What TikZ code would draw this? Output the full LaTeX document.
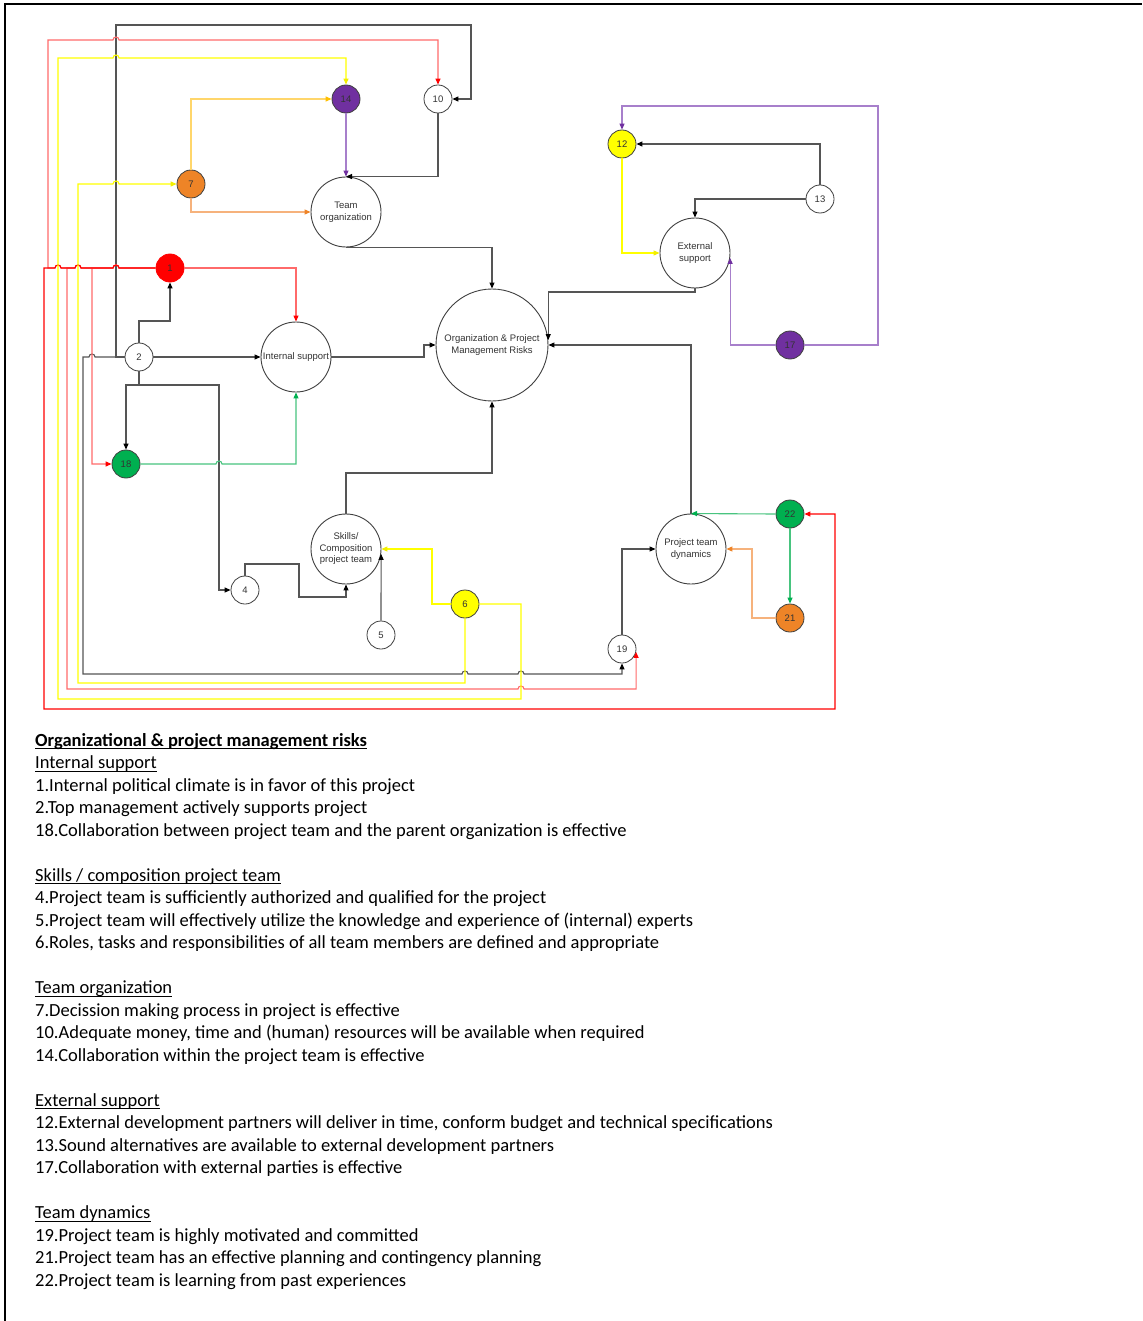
\documentclass[tikz,border=0pt]{standalone}
\usepackage{fontspec}
\setmainfont{Carlito}
\newfontfamily\arialf{Liberation Sans}
\usetikzlibrary{arrows.meta,calc}

\definecolor{lnGray}{HTML}{555555}
\definecolor{cRed}{HTML}{FF0000}
\definecolor{cRedL}{HTML}{FF6A6A}
\definecolor{cYel}{HTML}{FFFF00}
\definecolor{cYelTip}{HTML}{F2EE00}
\definecolor{cGold}{HTML}{FFC000}
\definecolor{cGoldL}{HTML}{FFD66B}
\definecolor{cOra}{HTML}{EE8427}
\definecolor{cOraL}{HTML}{F6B27C}
\definecolor{cPur}{HTML}{7030A0}
\definecolor{cPurL}{HTML}{A77FCB}
\definecolor{cGrn}{HTML}{00B050}
\definecolor{cGrnL}{HTML}{48C47F}
\definecolor{nodeEdge}{HTML}{404040}

\tikzset{
  headcol/.style={-{Triangle[length=6pt,width=5pt,color=#1]}},
  wire/.style={line width=1.1pt},
  blk/.style={wire, draw=lnGray, headcol=black},
  redL/.style={wire, draw=cRedL, headcol=cRed},
  redS/.style={wire, draw=cRed, headcol=cRed},
  yel/.style={wire, draw=cYel, headcol=cYelTip},
  gold/.style={wire, draw=cGoldL, headcol=cGold},
  ora/.style={wire, draw=cOraL, headcol=cOra},
  pur/.style={wire, draw=cPurL, headcol=cPur},
  grn/.style={wire, draw=cGrnL, headcol=cGrn},
  num/.style={circle, draw=nodeEdge, line width=0.8pt, minimum size=28pt,
    inner sep=0pt, font=\arialf\fontsize{9.5}{11}\selectfont, text=black!80},
  hub/.style={circle, draw=nodeEdge, line width=0.9pt, minimum size=70pt,
    inner sep=0pt, align=center, font=\arialf\fontsize{9.5}{11.5}\selectfont,
    text=black!80},
  core/.style={hub, minimum size=112pt},
  legend/.style={anchor=base west, inner sep=0pt,
    font=\fontsize{18.5}{22}\selectfont},
  heading/.style={legend},
}

\begin{document}
\begin{tikzpicture}[x=1pt, y=-1pt]
\useasboundingbox (0,0) rectangle (1142,1321);
\fill[white] (0,0) rectangle (1142,1321);

% page frame (top and left edges)
\draw[line width=2pt] (5,1321) -- (5,4) -- (1142,4);

% ---------- factor nodes ----------
\node[num, fill=cPur]   (n14) at (346,99)  {14};
\node[num]              (n10) at (438,99)  {10};
\node[num, fill=cOra]   (n7)  at (191,184) {7};
\node[num, fill=cRed, draw=cRed] (n1) at (170,268) {1};
\node[num]              (n2)  at (139,357) {2};
\node[num, fill=cGrn]   (n18) at (126,464) {18};
\node[num, fill=cYel]   (n12) at (622,144) {12};
\node[num]              (n13) at (820,199) {13};
\node[num, fill=cPur]   (n17) at (790,345) {17};
\node[num, fill=cGrn]   (n22) at (790,514) {22};
\node[num, fill=cOra]   (n21) at (790,618) {21};
\node[num]              (n19) at (622,649) {19};
\node[num]              (n4)  at (245,590) {4};
\node[num]              (n5)  at (381,635) {5};
\node[num, fill=cYel]   (n6)  at (465,604) {6};

% ---------- category nodes ----------
\node[hub]  (TO)  at (346,212) {Team\\organization};
\node[hub]  (IS)  at (296,357) {Internal support};
\node[core] (OR)  at (492,345) {Organization \& Project\\Management Risks};
\node[hub]  (ES)  at (695,253) {External\\support};
\node[hub]  (SK)  at (346,549) {Skills/\\Composition\\project team};
\node[hub]  (PTD) at (691,549) {Project team\\dynamics};

% ---------- gray connectors ----------
\draw[blk] (n2.west) -- (116,357) -- (116,25) -- (471,25) |- (n10.east);
\draw[blk] (n10.south) |- (TO.north);
\draw[blk] (TO.south) -| (OR.north);
\draw[blk] (n2.north) -- (139,321) -| (n1.south);
\draw[blk] (n2.east) -- (IS.west);
\draw[blk] (n2.south) -- (139,385) -| (n18.north);
\draw[blk] (n2.south) -- (139,385) -- (219,385) |- (n4.west);
\draw[blk] (IS.east) -- (424,357) |- (OR.west);
\draw[blk] (n4.north) -- (245,564) -- (299,564) -- (299,597) -| (SK.south);
\draw[blk] (n5.north) -- (SK.-8);
\draw[blk] (SK.north) -- (346,473) -| (OR.south);
\draw[blk] (ES.south) -- (695,292) -| (OR.5);
\draw[blk] (PTD.north) |- (OR.east);
\draw[blk] (n13.north) |- (n12.east);
\draw[blk] (n13.west) -| (ES.north);
\draw[blk] (n19.north) |- (PTD.west);
\draw[blk] (n2.west) -- (95,357) arc[start angle=0,end angle=180,radius=3pt]
  -- (83,357) -- (83,674) -- (462,674) arc[start angle=180,end angle=0,radius=3pt]
  -- (518,674) arc[start angle=180,end angle=0,radius=3pt] -| (n19.south);

% ---------- red connectors from 1 ----------
\draw[redL] (n1.east) -| (IS.north);
\draw[redL] (n1.west) -- (119,268) arc[start angle=0,end angle=180,radius=3pt]
  -- (92,268) |- (n18.west);
\draw[redL] (n1.west) -- (119,268) arc[start angle=0,end angle=180,radius=3pt]
  -- (81,268) arc[start angle=0,end angle=180,radius=3pt]
  -- (67,268) -- (67,689) -- (518,689) arc[start angle=180,end angle=0,radius=3pt]
  -| (n19.-12);
\draw[redL] (n1.west) -- (119,268) arc[start angle=0,end angle=180,radius=3pt]
  -- (81,268) arc[start angle=0,end angle=180,radius=3pt]
  -- (61,268) arc[start angle=0,end angle=180,radius=3pt]
  -- (48,268) -- (48,40) -- (113,40) arc[start angle=180,end angle=0,radius=3pt]
  -| (n10.north);
\draw[redS] (n1.west) -- (119,268) arc[start angle=0,end angle=180,radius=3pt]
  -- (81,268) arc[start angle=0,end angle=180,radius=3pt]
  -- (61,268) arc[start angle=0,end angle=180,radius=3pt]
  -- (44,268) -- (44,709) -- (835,709) |- (n22.east);

% ---------- yellow connectors ----------
\draw[yel] (n6.east) -- (521,604) -- (521,699) -- (58,699) -- (58,58)
  -- (113,58) arc[start angle=180,end angle=0,radius=3pt] -| (n14.north);
\draw[yel] (n6.south) -- (465,683) -- (78,683) -- (78,184)
  -- (113,184) arc[start angle=180,end angle=0,radius=3pt] -- (n7.west);
\draw[yel] (n6.west) -- (432,604) |- (SK.east);
\draw[yel] (n12.south) |- (ES.west);

% ---------- orange connectors ----------
\draw[gold] (n7.north) |- (n14.west);
\draw[ora] (n7.south) |- (TO.west);
\draw[ora] (n21.west) -- (752,618) |- (PTD.east);

% ---------- purple connectors ----------
\draw[pur] (n14.south) -- (TO.north);
\draw[pur] (n17.east) -- (878,345) -- (878,106) -| (n12.north);
\draw[pur] (n17.west) -| (ES.-8);

% ---------- green connectors ----------
\draw[grn] (n18.east) -- (216,464) arc[start angle=180,end angle=0,radius=3pt]
  -| (IS.south);
\draw[grn] (n22.west) -- (PTD.north);
\draw[grn] (n22.south) -- (n21.north);

% ---------- legend ----------
\node[legend, font=\fontsize{18.5}{22}\selectfont\bfseries] (h0) at (35,746)
  {Organizational \& project management risks};
\node[heading] (h1) at (35,768.5) {Internal support};
\node[legend] (t1)  at (35,791)   {1.Internal political climate is in favor of this project};
\node[legend] (t2)  at (35,813.5) {2.Top management actively supports project};
\node[legend] (t18) at (35,836)   {18.Collaboration between project team and the parent organization is effective};

\node[heading] (h2) at (35,881)   {Skills / composition project team};
\node[legend] (t4)  at (35,903.5) {4.Project team is sufficiently authorized and qualified for the project};
\node[legend] (t5)  at (35,926)   {5.Project team will effectively utilize the knowledge and experience of (internal) experts};
\node[legend] (t6)  at (35,948.5) {6.Roles, tasks and responsibilities of all team members are defined and appropriate};

\node[heading] (h3) at (35,993.5) {Team organization};
\node[legend] (t7)  at (35,1016)  {7.Decission making process in project is effective};
\node[legend] (t10) at (35,1038.5){10.Adequate money, time and (human) resources will be available when required};
\node[legend] (t14) at (35,1061)  {14.Collaboration within the project team is effective};

\node[heading] (h4) at (35,1106)  {External support};
\node[legend] (t12) at (35,1128.5){12.External development partners will deliver in time, conform budget and technical specifications};
\node[legend] (t13) at (35,1151)  {13.Sound alternatives are available to external development partners};
\node[legend] (t17) at (35,1173.5){17.Collaboration with external parties is effective};

\node[heading] (h5) at (35,1218.5){Team dynamics};
\node[legend] (t19) at (35,1241)  {19.Project team is highly motivated and committed};
\node[legend] (t21) at (35,1263.5){21.Project team has an effective planning and contingency planning};
\node[legend] (t22) at (35,1286)  {22.Project team is learning from past experiences};

% underlines of the headings
\draw[line width=1.4pt] ($(h0.base west)+(0,2.6)$) -- ($(h0.base east)+(0,2.6)$);
\foreach \h in {h1,h2,h3,h4,h5}
  \draw[line width=1pt] ($(\h.base west)+(0,2.6)$) -- ($(\h.base east)+(0,2.6)$);
\end{tikzpicture}
\end{document}
